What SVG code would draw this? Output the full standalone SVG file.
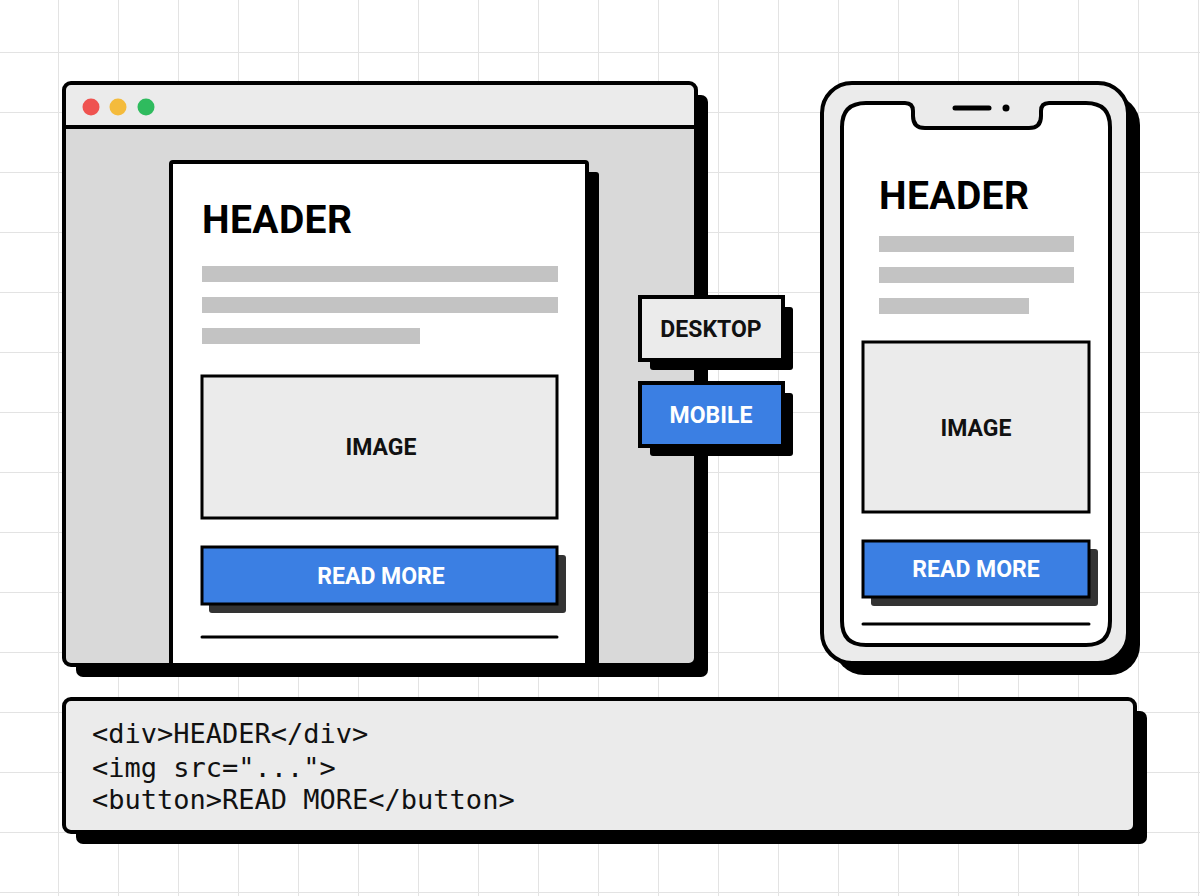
<svg xmlns="http://www.w3.org/2000/svg" width="1200" height="896" viewBox="0 0 1200 896">
<defs>
<pattern id="grid" x="-1" y="-7" width="60" height="60" patternUnits="userSpaceOnUse">
<path d="M60 0 V60 M0 60 H60" fill="none" stroke="#e3e3e3" stroke-width="2"/>
</pattern>
<style>
.ol{stroke:#000;stroke-width:4}
.thin{stroke:#000;stroke-width:3}
.bar{fill:#c3c3c3}
.head{font-family:Roboto,"Liberation Sans",sans-serif;font-weight:700;font-size:39px;letter-spacing:0.4px;fill:#000}
.lbl{font-family:Roboto,"Liberation Sans",sans-serif;font-weight:700;font-size:23px;text-anchor:middle}
.btn{fill:#3b7fe3}
.code{font-family:"DejaVu Sans Mono","Liberation Mono",monospace;font-size:27px;fill:#111}
</style>
</defs>
<rect width="1200" height="896" fill="#ffffff"/>
<rect width="1200" height="896" fill="url(#grid)"/>

<g id="browser">
<rect x="76" y="95" width="632" height="582" rx="7" fill="#000"/>
<rect x="64" y="83" width="632" height="582" rx="7" fill="#d9d9d9"/>
<path d="M64 127 V90 Q64 83 71 83 H689 Q696 83 696 90 V127 Z" fill="#ebebeb"/>
<line x1="64" y1="127" x2="696" y2="127" class="ol"/>
<circle cx="91" cy="107" r="8.5" fill="#ef5350"/>
<circle cx="118" cy="107" r="8.5" fill="#f4bb3c"/>
<circle cx="146" cy="107" r="8.5" fill="#2fbb5e"/>
<rect x="581" y="172" width="18" height="493" rx="3" fill="#000"/>
<rect x="171" y="162" width="416" height="503" rx="2" fill="#ffffff" class="ol"/>
<text x="202" y="233" class="head">HEADER</text>
<rect x="202" y="266" width="356" height="16" class="bar"/>
<rect x="202" y="297" width="356" height="16" class="bar"/>
<rect x="202" y="328" width="218" height="16" class="bar"/>
<rect x="202" y="376" width="355" height="142" fill="#ebebeb" class="thin"/>
<text x="381" y="455" class="lbl" fill="#111">IMAGE</text>
<rect x="209" y="555" width="357" height="58" rx="3" fill="#333"/>
<rect x="202" y="547" width="355" height="57" class="btn thin"/>
<text x="381" y="584" class="lbl" fill="#fff">READ MORE</text>
<line x1="202" y1="637" x2="557" y2="637" stroke="#000" stroke-width="3" stroke-linecap="round"/>
<rect x="64" y="83" width="632" height="582" rx="7" fill="none" class="ol"/>
</g>

<g id="desktop-label">
<rect x="650" y="307" width="143" height="63" rx="3" fill="#000"/>
<rect x="640" y="297" width="143" height="63" fill="#ebebeb" class="ol"/>
<text x="711" y="337" class="lbl" fill="#111">DESKTOP</text>
</g>

<g id="mobile-label">
<rect x="650" y="393" width="143" height="63" rx="3" fill="#000"/>
<rect x="640" y="383" width="143" height="63" class="btn ol"/>
<text x="711" y="423" class="lbl" fill="#fff">MOBILE</text>
</g>

<g id="phone">
<rect x="834" y="95" width="306" height="580" rx="30" fill="#000"/>
<rect x="822" y="83" width="306" height="580" rx="30" fill="#ebebeb" class="ol"/>
<path d="M866 103 H905 Q913 103 913 111 V116 Q913 128 925 128 H1029 Q1041 128 1041 116 V111 Q1041 103 1049 103 H1086 Q1110 103 1110 127 V621 Q1110 645 1086 645 H866 Q842 645 842 621 V127 Q842 103 866 103 Z" fill="#ffffff" class="ol"/>
<line x1="955" y1="108" x2="989" y2="108" stroke="#000" stroke-width="5" stroke-linecap="round"/>
<circle cx="1006" cy="108" r="3.5" fill="#000"/>
<text x="879" y="209" class="head">HEADER</text>
<rect x="879" y="236" width="195" height="16" class="bar"/>
<rect x="879" y="267" width="195" height="16" class="bar"/>
<rect x="879" y="298" width="150" height="16" class="bar"/>
<rect x="863" y="342" width="226" height="170" fill="#ebebeb" class="thin"/>
<text x="976" y="436" class="lbl" fill="#111">IMAGE</text>
<rect x="871" y="549" width="227" height="57" rx="3" fill="#333"/>
<rect x="863" y="541" width="226" height="56" class="btn thin"/>
<text x="976" y="577" class="lbl" fill="#fff">READ MORE</text>
<line x1="863" y1="624" x2="1089" y2="624" stroke="#000" stroke-width="3" stroke-linecap="round"/>
</g>

<g id="code">
<rect x="76" y="711" width="1071" height="133" rx="7" fill="#000"/>
<rect x="64" y="699" width="1071" height="133" rx="7" fill="#ebebeb" class="ol"/>
<text x="92" y="743" class="code">&lt;div&gt;HEADER&lt;/div&gt;</text>
<text x="92" y="777" class="code">&lt;img src="..."&gt;</text>
<text x="92" y="809" class="code">&lt;button&gt;READ MORE&lt;/button&gt;</text>
</g>

<g id="connectors"></g>
</svg>
